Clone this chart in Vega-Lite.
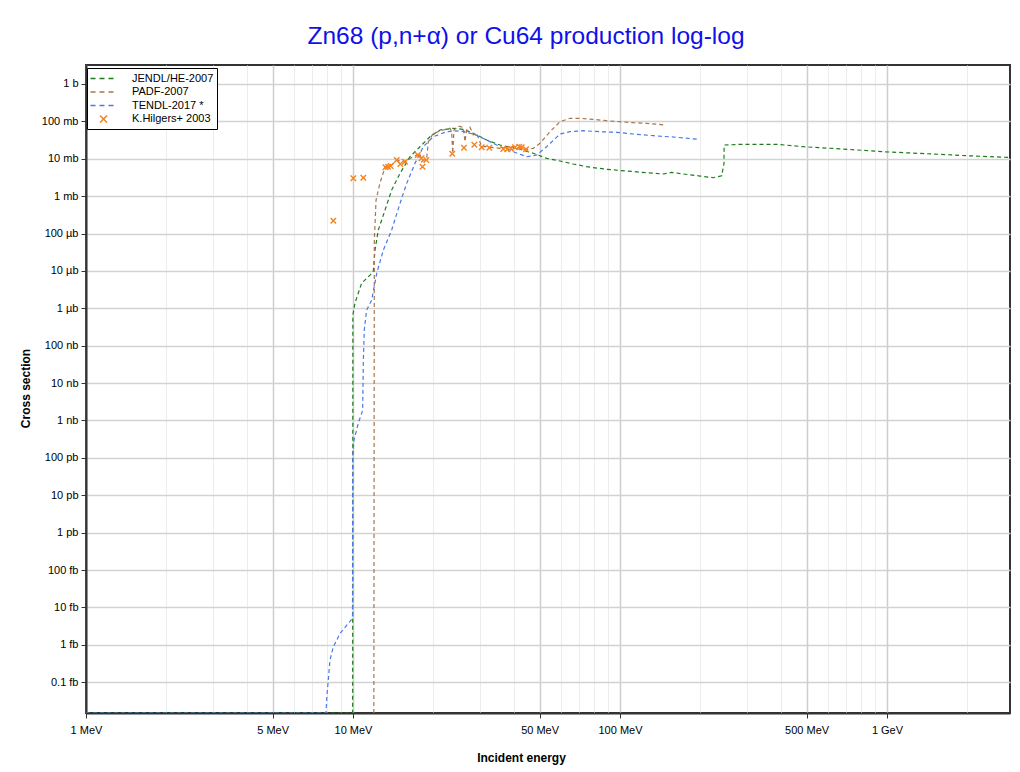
{
  "$schema": "https://vega.github.io/schema/vega-lite/v6.json",
  "width": 924,
  "height": 648,
  "autosize": {"type": "none"},
  "padding": {"left": 86, "top": 65, "right": 10, "bottom": 59},
  "background": "white",
  "title": {"text": "Zn68 (p,n+α) or Cu64 production log-log", "font": "Liberation Sans", "fontSize": 24.5, "fontWeight": "normal", "color": "#1010e8", "anchor": "middle", "dx": -22, "offset": 16},
  "config": {
    "view": {"stroke": "#333", "strokeWidth": 2},
    "axis": {"labelFont": "Liberation Sans", "labelFontSize": 11, "labelColor": "#000", "titleFont": "Liberation Sans", "titleFontSize": 12, "titleFontWeight": "bold", "titleColor": "#000", "domainColor": "#333", "domainWidth": 2, "tickColor": "#333", "tickSize": 5}
  },
  "layer": [
    {
      "data": {"values": [
        {"series": "JENDL/HE-2007", "e": 1, "s": 1.5e-17},
        {"series": "JENDL/HE-2007", "e": 9.97, "s": 1.5e-17},
        {"series": "JENDL/HE-2007", "e": 9.99, "s": 6.6e-7},
        {"series": "JENDL/HE-2007", "e": 10.17, "s": 1.38e-6},
        {"series": "JENDL/HE-2007", "e": 10.78, "s": 4.74e-6},
        {"series": "JENDL/HE-2007", "e": 11.58, "s": 7.75e-6},
        {"series": "JENDL/HE-2007", "e": 11.91, "s": 9.5e-6},
        {"series": "JENDL/HE-2007", "e": 12.09, "s": 3.62e-5},
        {"series": "JENDL/HE-2007", "e": 12.44, "s": 1.24e-4},
        {"series": "JENDL/HE-2007", "e": 13.18, "s": 4.25e-4},
        {"series": "JENDL/HE-2007", "e": 13.96, "s": 1.46e-3},
        {"series": "JENDL/HE-2007", "e": 15.0, "s": 4.08e-3},
        {"series": "JENDL/HE-2007", "e": 16.35, "s": 0.01134},
        {"series": "JENDL/HE-2007", "e": 17.82, "s": 0.021},
        {"series": "JENDL/HE-2007", "e": 19.43, "s": 0.0389},
        {"series": "JENDL/HE-2007", "e": 21.18, "s": 0.0588},
        {"series": "JENDL/HE-2007", "e": 23.75, "s": 0.0653},
        {"series": "JENDL/HE-2007", "e": 25.88, "s": 0.0614},
        {"series": "JENDL/HE-2007", "e": 28.22, "s": 0.048},
        {"series": "JENDL/HE-2007", "e": 31.68, "s": 0.0317},
        {"series": "JENDL/HE-2007", "e": 35.53, "s": 0.0233},
        {"series": "JENDL/HE-2007", "e": 41.04, "s": 0.019},
        {"series": "JENDL/HE-2007", "e": 47.35, "s": 0.014},
        {"series": "JENDL/HE-2007", "e": 53.15, "s": 0.01028},
        {"series": "JENDL/HE-2007", "e": 59.6, "s": 0.00871},
        {"series": "JENDL/HE-2007", "e": 66.86, "s": 0.00724},
        {"series": "JENDL/HE-2007", "e": 75.04, "s": 0.00613},
        {"series": "JENDL/HE-2007", "e": 89.17, "s": 0.00522},
        {"series": "JENDL/HE-2007", "e": 105.9, "s": 0.0047},
        {"series": "JENDL/HE-2007", "e": 125.9, "s": 0.00423},
        {"series": "JENDL/HE-2007", "e": 145.3, "s": 0.00391},
        {"series": "JENDL/HE-2007", "e": 156.2, "s": 0.00434},
        {"series": "JENDL/HE-2007", "e": 172.6, "s": 0.00391},
        {"series": "JENDL/HE-2007", "e": 199.4, "s": 0.00345},
        {"series": "JENDL/HE-2007", "e": 223.6, "s": 0.00311},
        {"series": "JENDL/HE-2007", "e": 240.4, "s": 0.00352},
        {"series": "JENDL/HE-2007", "e": 245.2, "s": 0.00755},
        {"series": "JENDL/HE-2007", "e": 245.5, "s": 0.0233},
        {"series": "JENDL/HE-2007", "e": 289.6, "s": 0.0244},
        {"series": "JENDL/HE-2007", "e": 386.2, "s": 0.0244},
        {"series": "JENDL/HE-2007", "e": 485.9, "s": 0.021},
        {"series": "JENDL/HE-2007", "e": 686, "s": 0.0182},
        {"series": "JENDL/HE-2007", "e": 968.6, "s": 0.0154},
        {"series": "JENDL/HE-2007", "e": 1491, "s": 0.0134},
        {"series": "JENDL/HE-2007", "e": 1988, "s": 0.01207},
        {"series": "JENDL/HE-2007", "e": 3000, "s": 0.0107},
        {"series": "PADF-2007", "e": 11.97, "s": 1.5e-17},
        {"series": "PADF-2007", "e": 12.02, "s": 6.7e-5},
        {"series": "PADF-2007", "e": 12.2, "s": 7.87e-4},
        {"series": "PADF-2007", "e": 12.62, "s": 2.25e-3},
        {"series": "PADF-2007", "e": 13.18, "s": 5.9e-3},
        {"series": "PADF-2007", "e": 13.96, "s": 6.8e-3},
        {"series": "PADF-2007", "e": 14.58, "s": 9.26e-3},
        {"series": "PADF-2007", "e": 15.66, "s": 8.34e-3},
        {"series": "PADF-2007", "e": 16.82, "s": 0.01134},
        {"series": "PADF-2007", "e": 17.82, "s": 0.014},
        {"series": "PADF-2007", "e": 18.08, "s": 8.34e-3},
        {"series": "PADF-2007", "e": 18.88, "s": 0.01047},
        {"series": "PADF-2007", "e": 19.15, "s": 0.0286},
        {"series": "PADF-2007", "e": 19.98, "s": 0.048},
        {"series": "PADF-2007", "e": 21.78, "s": 0.0588},
        {"series": "PADF-2007", "e": 23.08, "s": 0.0653},
        {"series": "PADF-2007", "e": 23.42, "s": 0.0529},
        {"series": "PADF-2007", "e": 23.63, "s": 0.014},
        {"series": "PADF-2007", "e": 23.89, "s": 0.0588},
        {"series": "PADF-2007", "e": 24.8, "s": 0.0752},
        {"series": "PADF-2007", "e": 25.88, "s": 0.0694},
        {"series": "PADF-2007", "e": 26.27, "s": 0.0286},
        {"series": "PADF-2007", "e": 26.66, "s": 0.0588},
        {"series": "PADF-2007", "e": 27.43, "s": 0.0694},
        {"series": "PADF-2007", "e": 28.22, "s": 0.0432},
        {"series": "PADF-2007", "e": 29.06, "s": 0.048},
        {"series": "PADF-2007", "e": 30.35, "s": 0.021},
        {"series": "PADF-2007", "e": 31.68, "s": 0.021},
        {"series": "PADF-2007", "e": 35.53, "s": 0.019},
        {"series": "PADF-2007", "e": 39.85, "s": 0.021},
        {"series": "PADF-2007", "e": 44.73, "s": 0.0179},
        {"series": "PADF-2007", "e": 47.35, "s": 0.019},
        {"series": "PADF-2007", "e": 50.15, "s": 0.0259},
        {"series": "PADF-2007", "e": 54.68, "s": 0.0529},
        {"series": "PADF-2007", "e": 59.6, "s": 0.098},
        {"series": "PADF-2007", "e": 64.98, "s": 0.1209},
        {"series": "PADF-2007", "e": 70.84, "s": 0.1209},
        {"series": "PADF-2007", "e": 79.2, "s": 0.1136},
        {"series": "PADF-2007", "e": 89.17, "s": 0.1042},
        {"series": "PADF-2007", "e": 100, "s": 0.098},
        {"series": "PADF-2007", "e": 112.2, "s": 0.0922},
        {"series": "PADF-2007", "e": 125.9, "s": 0.0888},
        {"series": "PADF-2007", "e": 147.4, "s": 0.08},
        {"series": "TENDL-2017 *", "e": 1, "s": 1.5e-17},
        {"series": "TENDL-2017 *", "e": 7.92, "s": 1.5e-17},
        {"series": "TENDL-2017 *", "e": 7.99, "s": 4.49e-17},
        {"series": "TENDL-2017 *", "e": 8.2, "s": 3.88e-16},
        {"series": "TENDL-2017 *", "e": 8.44, "s": 8.8e-16},
        {"series": "TENDL-2017 *", "e": 8.94, "s": 2.01e-15},
        {"series": "TENDL-2017 *", "e": 9.6, "s": 3.72e-15},
        {"series": "TENDL-2017 *", "e": 9.96, "s": 5.16e-15},
        {"series": "TENDL-2017 *", "e": 9.97, "s": 1.07e-10},
        {"series": "TENDL-2017 *", "e": 10.09, "s": 2.98e-10},
        {"series": "TENDL-2017 *", "e": 10.47, "s": 8.5e-10},
        {"series": "TENDL-2017 *", "e": 10.87, "s": 1.89e-9},
        {"series": "TENDL-2017 *", "e": 10.93, "s": 3.43e-8},
        {"series": "TENDL-2017 *", "e": 11.02, "s": 2.62e-7},
        {"series": "TENDL-2017 *", "e": 11.25, "s": 8.97e-7},
        {"series": "TENDL-2017 *", "e": 11.75, "s": 1.66e-6},
        {"series": "TENDL-2017 *", "e": 12.27, "s": 8.61e-6},
        {"series": "TENDL-2017 *", "e": 12.99, "s": 3.62e-5},
        {"series": "TENDL-2017 *", "e": 13.96, "s": 1.24e-4},
        {"series": "TENDL-2017 *", "e": 15.0, "s": 6.43e-4},
        {"series": "TENDL-2017 *", "e": 15.89, "s": 2.2e-3},
        {"series": "TENDL-2017 *", "e": 17.07, "s": 7.55e-3},
        {"series": "TENDL-2017 *", "e": 18.34, "s": 0.021},
        {"series": "TENDL-2017 *", "e": 19.98, "s": 0.0389},
        {"series": "TENDL-2017 *", "e": 22.43, "s": 0.0529},
        {"series": "TENDL-2017 *", "e": 25.16, "s": 0.0563},
        {"series": "TENDL-2017 *", "e": 28.22, "s": 0.0459},
        {"series": "TENDL-2017 *", "e": 31.68, "s": 0.0317},
        {"series": "TENDL-2017 *", "e": 35.53, "s": 0.021},
        {"series": "TENDL-2017 *", "e": 39.85, "s": 0.0154},
        {"series": "TENDL-2017 *", "e": 44.73, "s": 0.01134},
        {"series": "TENDL-2017 *", "e": 48.75, "s": 0.0126},
        {"series": "TENDL-2017 *", "e": 53.15, "s": 0.021},
        {"series": "TENDL-2017 *", "e": 59.6, "s": 0.0459},
        {"series": "TENDL-2017 *", "e": 64.98, "s": 0.0529},
        {"series": "TENDL-2017 *", "e": 72.88, "s": 0.0563},
        {"series": "TENDL-2017 *", "e": 84.17, "s": 0.0529},
        {"series": "TENDL-2017 *", "e": 97.2, "s": 0.051},
        {"series": "TENDL-2017 *", "e": 112.2, "s": 0.0459},
        {"series": "TENDL-2017 *", "e": 133.3, "s": 0.0414},
        {"series": "TENDL-2017 *", "e": 163.1, "s": 0.0375},
        {"series": "TENDL-2017 *", "e": 196.5, "s": 0.0331}
      ]},
      "mark": {"type": "line", "strokeDash": [4, 3], "strokeWidth": 1.2, "clip": true},
      "encoding": {
        "x": {"field": "e", "type": "quantitative", "scale": {"type": "log", "domain": [1, 2889], "nice": false},
          "axis": {
            "values": [1,2,3,4,5,6,7,8,9,10,20,30,40,50,60,70,80,90,100,200,300,400,500,600,700,800,900,1000,2000],
            "labelExpr": "indexof([1,5,10,50,100,500], datum.value) >= 0 ? datum.value + ' MeV' : (datum.value == 1000 ? '1 GeV' : '')",
            "labelOverlap": false,
            "labelFlush": false,
            "labelPadding": 6,
            "gridColor": {"condition": {"test": "indexof([1,5,10,50,100,500,1000], datum.value) >= 0", "value": "#cdcdcd"}, "value": "#ececec"},
            "gridWidth": {"condition": {"test": "indexof([1,5,10,50,100,500,1000], datum.value) >= 0", "value": 1.5}, "value": 1},
            "tickOpacity": {"condition": {"test": "indexof([1,5,10,50,100,500,1000], datum.value) >= 0", "value": 1}, "value": 0},
            "title": "Incident energy", "titleX": 435, "titleY": 44, "titleAlign": "center", "titleBaseline": "middle"
          }},
        "y": {"field": "s", "type": "quantitative", "scale": {"type": "log", "domain": [1.5e-17, 3.22], "nice": false},
          "axis": {
            "values": [1e-16,1e-15,1e-14,1e-13,1e-12,1e-11,1e-10,1e-9,1e-8,1e-7,1e-6,1e-5,1e-4,1e-3,1e-2,1e-1,1],
            "labelExpr": "['0.1 fb','1 fb','10 fb','100 fb','1 pb','10 pb','100 pb','1 nb','10 nb','100 nb','1 µb','10 µb','100 µb','1 mb','10 mb','100 mb','1 b'][round(log(datum.value)/LN10)+16]",
            "labelOverlap": false,
            "labelFlush": false,
            "labelPadding": 3,
            "gridColor": "#d2d2d2", "gridWidth": 1.5,
            "title": "Cross section", "titleAngle": -90, "titleX": -61, "titleY": 323, "titleAlign": "center", "titleBaseline": "middle"
          }},
        "color": {"field": "series", "type": "nominal",
          "scale": {"domain": ["JENDL/HE-2007", "PADF-2007", "TENDL-2017 *", "K.Hilgers+ 2003"], "range": ["#1c7c1c", "#a8754a", "#4a78e6", "#f5821f"]},
          "legend": {
            "title": null, "orient": "none", "legendX": 1, "legendY": 3,
            "fillColor": "white", "strokeColor": "#000", "padding": 3,
            "labelFont": "Liberation Sans", "labelFontSize": 11, "labelColor": "#000",
            "symbolOffset": 6, "labelOffset": 21, "rowPadding": 0.5, "symbolStrokeWidth": 1.5,
            "encode": {"symbols": {"update": {
              "shape": {"signal": "datum.value === 'K.Hilgers+ 2003' ? 'M-1,-1L1,1M1,-1L-1,1' : 'M-2,0L2,0'"},
              "size": {"signal": "datum.value === 'K.Hilgers+ 2003' ? 49 : 169"},
              "strokeDash": {"signal": "datum.value === 'K.Hilgers+ 2003' ? [1,0] : [5,4]"},
              "fill": {"value": "transparent"}
            }}}
          }}
      }
    },
    {
      "data": {"values": [
        {"series": "K.Hilgers+ 2003", "e": 8.44, "s": 2.2e-4},
        {"series": "K.Hilgers+ 2003", "e": 10.03, "s": 3.0e-3},
        {"series": "K.Hilgers+ 2003", "e": 10.93, "s": 3.11e-3},
        {"series": "K.Hilgers+ 2003", "e": 13.23, "s": 5.9e-3},
        {"series": "K.Hilgers+ 2003", "e": 13.52, "s": 6.13e-3},
        {"series": "K.Hilgers+ 2003", "e": 13.84, "s": 6.4e-3},
        {"series": "K.Hilgers+ 2003", "e": 14.58, "s": 9.26e-3},
        {"series": "K.Hilgers+ 2003", "e": 15.04, "s": 7.24e-3},
        {"series": "K.Hilgers+ 2003", "e": 15.66, "s": 8.34e-3},
        {"series": "K.Hilgers+ 2003", "e": 17.49, "s": 0.0126},
        {"series": "K.Hilgers+ 2003", "e": 18.06, "s": 0.01028},
        {"series": "K.Hilgers+ 2003", "e": 18.21, "s": 6.13e-3},
        {"series": "K.Hilgers+ 2003", "e": 18.82, "s": 9.26e-3},
        {"series": "K.Hilgers+ 2003", "e": 23.54, "s": 0.01356},
        {"series": "K.Hilgers+ 2003", "e": 26.04, "s": 0.01975},
        {"series": "K.Hilgers+ 2003", "e": 28.47, "s": 0.0238},
        {"series": "K.Hilgers+ 2003", "e": 30.35, "s": 0.0202},
        {"series": "K.Hilgers+ 2003", "e": 32.4, "s": 0.01975},
        {"series": "K.Hilgers+ 2003", "e": 36.55, "s": 0.0182},
        {"series": "K.Hilgers+ 2003", "e": 37.84, "s": 0.0179},
        {"series": "K.Hilgers+ 2003", "e": 39.06, "s": 0.0186},
        {"series": "K.Hilgers+ 2003", "e": 40.44, "s": 0.0202},
        {"series": "K.Hilgers+ 2003", "e": 41.97, "s": 0.021},
        {"series": "K.Hilgers+ 2003", "e": 42.84, "s": 0.0202},
        {"series": "K.Hilgers+ 2003", "e": 44.46, "s": 0.0179}
      ]},
      "mark": {"type": "point", "shape": "M-1,-1L1,1M1,-1L-1,1", "filled": false, "size": 30, "strokeWidth": 1.4, "opacity": 1, "clip": true},
      "encoding": {
        "x": {"field": "e", "type": "quantitative"},
        "y": {"field": "s", "type": "quantitative"},
        "color": {"field": "series", "type": "nominal",
          "scale": {"domain": ["JENDL/HE-2007", "PADF-2007", "TENDL-2017 *", "K.Hilgers+ 2003"], "range": ["#1c7c1c", "#a8754a", "#4a78e6", "#f5821f"]},
          "legend": null}
      }
    }
  ]
}
